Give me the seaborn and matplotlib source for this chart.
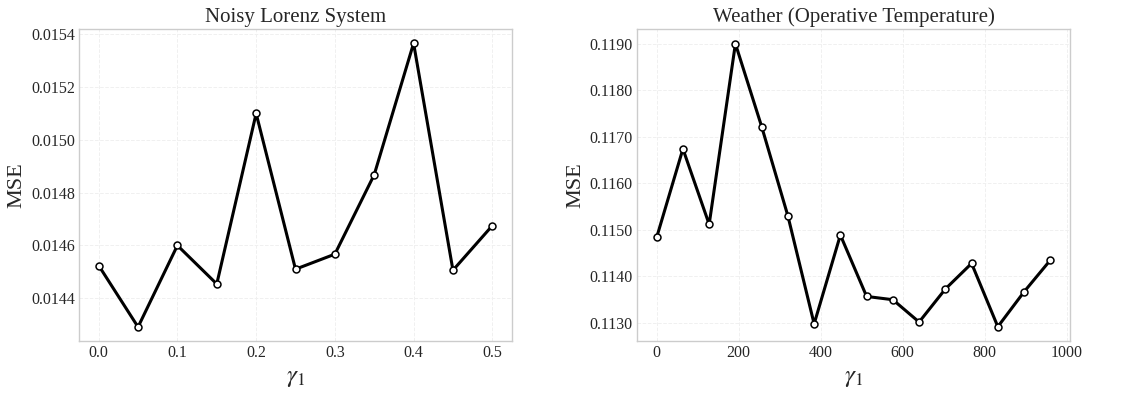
import numpy as np
import pandas as pd
import seaborn as sns
import matplotlib
matplotlib.use("Agg")
import matplotlib.pyplot as plt

# Data
lorenz_gamma = [0.0, 0.05, 0.1, 0.15, 0.2, 0.25, 0.3, 0.35, 0.4, 0.45, 0.5]
lorenz_mse = [0.014524, 0.014291, 0.014600, 0.014454, 0.015100, 0.014510,
              0.014567, 0.014868, 0.015366, 0.014506, 0.014675]

weather_gamma = [0, 64, 128, 192, 256, 320, 384, 448, 512, 576, 640, 704, 768, 832, 896, 960]
weather_mse = [0.11484, 0.11674, 0.11512, 0.11900, 0.11722, 0.11530, 0.11298, 0.11489,
               0.11357, 0.11350, 0.11302, 0.11373, 0.11428, 0.11292, 0.11367, 0.11435]

titles = ["Noisy Lorenz System", "Weather (Operative Temperature)"]
lorenz_yticks = [0.0144, 0.0146, 0.0148, 0.0150, 0.0152, 0.0154]
weather_yticks = [0.1130, 0.1140, 0.1150, 0.1160, 0.1170, 0.1180, 0.1190]

sns.set_theme(style="whitegrid")
plt.rcParams["font.family"] = ["Liberation Serif", "DejaVu Serif"]
plt.rcParams["mathtext.fontset"] = "stix"

fig = plt.figure(figsize=(11.38, 3.94), dpi=100)
ax1 = fig.add_axes([79/1138, 1-341/394, (512-79)/1138, (341-29)/394])
ax2 = fig.add_axes([637/1138, 1-341/394, (1070-637)/1138, (341-29)/394])

df1 = pd.DataFrame({"gamma": lorenz_gamma, "mse": lorenz_mse})
df2 = pd.DataFrame({"gamma": weather_gamma, "mse": weather_mse})

for ax, df, title in [(ax1, df1, titles[0]), (ax2, df2, titles[1])]:
    sns.lineplot(data=df, x="gamma", y="mse", ax=ax, color="black", linewidth=2.2,
                 marker="o", markersize=5, markerfacecolor="white",
                 markeredgecolor="black", markeredgewidth=1.1)
    ax.set_title(title, fontsize=15, pad=5)
    ax.set_xlabel(r"$\gamma_1$", fontsize=18, labelpad=4)
    ax.set_ylabel("MSE", fontsize=16, labelpad=3)
    ax.tick_params(labelsize=11.5, length=0, pad=3)
    ax.grid(True, color="#f0f0f0", linestyle="--", linewidth=0.7)
    for s in ax.spines.values():
        s.set_color("#cccccc")
        s.set_linewidth(1.0)

ax1.set_xticks([0.0, 0.1, 0.2, 0.3, 0.4, 0.5])
ax1.set_xticklabels(["0.0", "0.1", "0.2", "0.3", "0.4", "0.5"])
ax1.set_yticks(lorenz_yticks)
ax1.set_yticklabels([f"{v:.4f}" for v in lorenz_yticks])
ax1.set_xlim(-0.025, 0.525)
ax1.set_ylim(0.014238, 0.015420)

ax2.set_xticks([0, 200, 400, 600, 800, 1000])
ax2.set_yticks(weather_yticks)
ax2.set_yticklabels([f"{v:.4f}" for v in weather_yticks])
ax2.set_xlim(-48, 1008)
ax2.set_ylim(0.112613, 0.119316)

fig.savefig("out.png", dpi=100)
